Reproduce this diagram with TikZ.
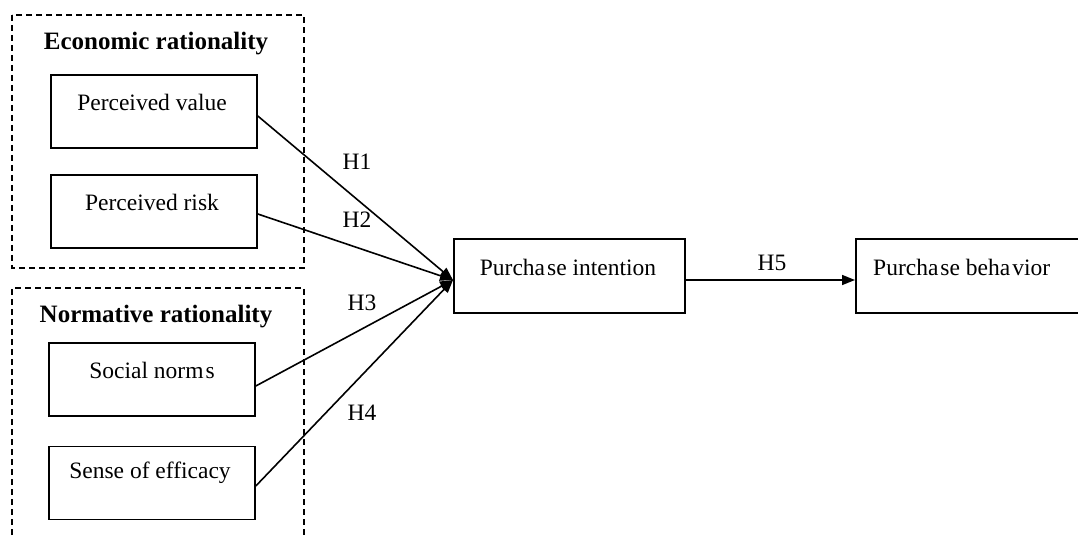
\documentclass[tikz,border=0pt]{standalone}
\usepackage{fontspec}
\setmainfont{Liberation Serif}
\usetikzlibrary{arrows.meta}
\begin{document}
\begin{tikzpicture}[x=1pt,y=-1pt,
  box/.style={draw,line width=1.6pt,minimum width=206pt,minimum height=73pt,inner sep=0pt},
  bigbox/.style={draw,line width=1.6pt,minimum width=231pt,minimum height=74pt,inner sep=0pt},
  lbl/.style={font=\fontsize{23.5}{27}\selectfont,inner sep=0pt},
  ttl/.style={font=\fontsize{25}{29}\selectfont\bfseries,inner sep=0pt},
  grp/.style={draw,line width=1.3pt,dash pattern=on 6pt off 4pt},
  link/.style={line width=1.6pt,-{Triangle[length=13pt,width=10pt]}}]
\useasboundingbox (0,0) rectangle (1078,537);
% groups
\draw[grp] (12,15) rectangle (304,268);
\draw[grp] (12,545) -- (12,288) -- (304,288) -- (304,545);
\node[ttl] (t1) at (156,44) {Economic rationality};
\node[ttl] (t2) at (156,317) {Normative rationality};
% boxes
\node[box] (pv) at (154,111.5) {};
\node[lbl] at (152,102) {Perceived value};
\node[box] (pr) at (154,211.5) {};
\node[lbl] at (152,202) {Perceived risk};
\node[box] (sn) at (152,379.5) {};
\node[lbl] at (152,370) {Social norm\kern2pt s};
\node[box] (se) at (152,483) {};
\node[lbl] at (150,473) {Sense of efficacy};
\node[bigbox] (pi) at (569.5,276) {};
\node[lbl] at (568,267) {Purcha\kern2pt se intention};
\node[draw,line width=1.6pt,minimum width=245pt,minimum height=74pt,inner sep=0pt,anchor=west] (pb) at (855,276) {};
\node[lbl,anchor=west] at (873,267) {Purcha\kern2pt se beha\kern2pt vior};
% connectors
\coordinate (c) at (453,280);
\draw[link] (pv.east |- 0,116) -- (c);
\draw[link] (pr.east |- 0,214) -- (c);
\draw[link] (sn.east |- 0,386) -- (c);
\draw[link] (se.east |- 0,486) -- (c);
\draw[link] (pi.east |- 0,280) -- (pb.west |- 0,280);
% labels
\node[lbl] at (357,162) {H1};
\node[lbl] at (357,220) {H2};
\node[lbl] at (362,303) {H3};
\node[lbl] at (362,413) {H4};
\node[lbl] at (772,263) {H5};
\end{tikzpicture}
\end{document}
